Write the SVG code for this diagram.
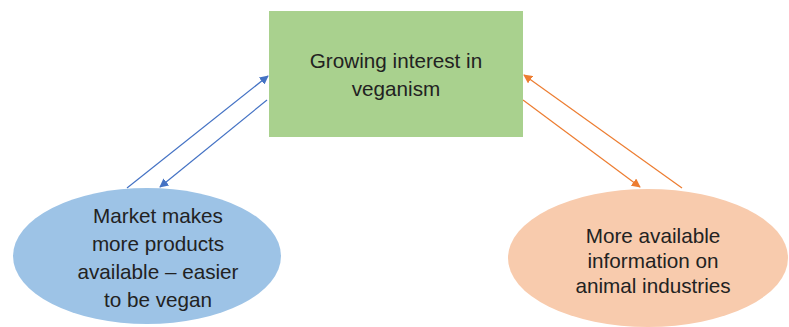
<svg xmlns="http://www.w3.org/2000/svg" width="789" height="327" viewBox="0 0 789 327">
<style>
text{font-family:"Liberation Sans",Arial,sans-serif;font-size:20.7px;fill:#222;text-anchor:middle}
.b{stroke:#4472c4;stroke-width:1.2;fill:none}
.o{stroke:#ed7d31;stroke-width:1.2;fill:none}
</style>
<defs>
<marker id="ab" viewBox="0 0 10 10" refX="9" refY="5" markerWidth="9" markerHeight="9" markerUnits="userSpaceOnUse" orient="auto"><path d="M0,0L10,5L0,10z" fill="#4472c4"/></marker>
<marker id="ao" viewBox="0 0 10 10" refX="9" refY="5" markerWidth="9" markerHeight="9" markerUnits="userSpaceOnUse" orient="auto"><path d="M0,0L10,5L0,10z" fill="#ed7d31"/></marker>
</defs>
<rect width="789" height="327" fill="#fff"/>
<g id="connectors">
<line class="b" x1="127" y1="188" x2="268" y2="76" marker-end="url(#ab)"/>
<line class="b" x1="267" y1="100" x2="160" y2="187" marker-end="url(#ab)"/>
<line class="o" x1="682" y1="188" x2="524" y2="75" marker-end="url(#ao)"/>
<line class="o" x1="523" y1="100" x2="640" y2="187" marker-end="url(#ao)"/>
</g>
<g id="interest">
<rect x="269" y="11" width="254" height="126" fill="#a9d18e"/>
<text x="396" y="68">Growing interest in</text>
<text x="396" y="96">veganism</text>
</g>
<g id="market">
<ellipse cx="147" cy="256" rx="134" ry="68" fill="#9dc3e6"/>
<text x="158" y="223">Market makes</text>
<text x="158" y="251">more products</text>
<text x="158" y="279">available – easier</text>
<text x="158" y="307">to be vegan</text>
</g>
<g id="information">
<ellipse cx="648" cy="258" rx="140" ry="69" fill="#f8cbad"/>
<text x="653" y="243">More available</text>
<text x="653" y="268">information on</text>
<text x="653" y="293">animal industries</text>
</g>
</svg>
